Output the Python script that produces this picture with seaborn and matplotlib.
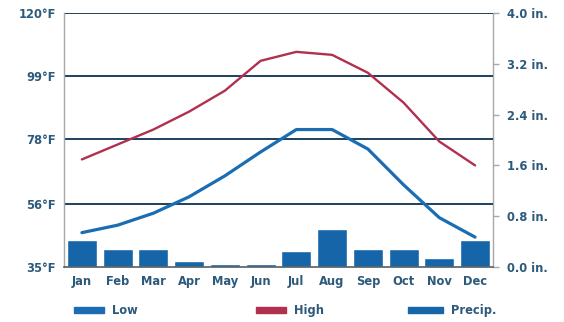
import matplotlib
matplotlib.use("Agg")
import matplotlib.pyplot as plt
from matplotlib.patches import Patch
import seaborn as sns
import pandas as pd

months = ["Jan", "Feb", "Mar", "Apr", "May", "Jun",
          "Jul", "Aug", "Sep", "Oct", "Nov", "Dec"]
high_f = [71, 76, 81, 87, 94, 104, 107, 106, 100, 90, 77, 69]
low_f = [46.5, 49, 53, 58.5, 65.5, 73.5, 81, 81, 74.5, 62.5, 51.5, 45]
precip_in = [0.43, 0.29, 0.29, 0.10, 0.05, 0.05, 0.25, 0.60, 0.28, 0.28, 0.14, 0.43]

temp_ticks = [35, 56, 78, 99, 120]
rain_ticks = [0.0, 0.8, 1.6, 2.4, 3.2, 4.0]

sns.set_theme(style="white")
plt.rcParams["font.family"] = ["DejaVu Sans"]

TEXT = "#2d5a7b"
GRID = "#1d3f5e"
LOW_C = "#1a6db3"
HIGH_C = "#b0304e"
BAR_C = "#1565a8"
FS = 8.3

df = pd.DataFrame({"month": months, "high": high_f, "low": low_f, "precip": precip_in})
df["pos"] = range(len(months))

fig = plt.figure(figsize=(5.64, 3.22), dpi=100)
ax = fig.add_axes([0.1135, 0.1708, 0.7605, 0.7888])
ax2 = ax.twinx()

# precipitation bars on the right-hand axis
sns.barplot(data=df, x="month", y="precip", color=BAR_C, saturation=1,
            width=0.84, ax=ax2, zorder=3)
ax2.set_ylim(0, 4.0)
ax2.set_yticks(rain_ticks)
ax2.set_yticklabels([f"{v:.1f} in." for v in rain_ticks])

# temperature lines on the left-hand axis
sns.lineplot(data=df, x="pos", y="high", color=HIGH_C, lw=1.7, ax=ax, zorder=4)
sns.lineplot(data=df, x="pos", y="low", color=LOW_C, lw=2.3, ax=ax, zorder=4)
ax.set_ylim(35, 120)
ax.set_yticks(temp_ticks)
ax.set_yticklabels([f"{v}°F" for v in temp_ticks])
ax.set_xlim(-0.5, 11.5)
ax2.set_xlim(-0.5, 11.5)
ax.set_xticks(range(12))
ax.set_xticklabels(months)

for v in temp_ticks[1:]:
    ax.axhline(v, color=GRID, lw=1.4, zorder=1)

ax.set_xlabel("")
ax.set_ylabel("")
ax2.set_xlabel("")
ax2.set_ylabel("")

for a in (ax, ax2):
    for s in a.spines.values():
        s.set_visible(False)
ax.spines["left"].set_visible(True)
ax.spines["left"].set_color("#a8a8a8")
ax.spines["left"].set_linewidth(1.0)
ax2.spines["right"].set_visible(True)
ax2.spines["right"].set_color("#a8a8a8")
ax2.spines["right"].set_linewidth(1.0)
ax.spines["bottom"].set_visible(True)
ax.spines["bottom"].set_color("#555f66")
ax.spines["bottom"].set_linewidth(1.2)

ax.tick_params(axis="y", length=0, pad=6, labelsize=FS, labelcolor=TEXT)
ax.tick_params(axis="x", length=0, pad=6, labelsize=FS, labelcolor=TEXT)
ax2.tick_params(axis="y", right=True, length=4, width=1, color="#a8a8a8",
                pad=6, labelsize=FS, labelcolor=TEXT)
for lab in ax.get_yticklabels() + ax2.get_yticklabels() + ax.get_xticklabels():
    lab.set_fontweight("bold")

ax2.set_zorder(ax.get_zorder() - 1)
ax.patch.set_visible(False)

legend_items = [("Low", LOW_C, 0.113, 2.6), ("High", HIGH_C, 0.436, 2.6),
                ("Precip.", BAR_C, 0.705, 3.0)]
for text, col, xpos, hl in legend_items:
    leg = fig.legend(handles=[Patch(facecolor=col, edgecolor=col)], labels=[text],
                     loc="center left", bbox_to_anchor=(xpos, 0.035), frameon=False,
                     handlelength=hl, handleheight=0.5, handletextpad=0.7,
                     prop={"size": FS, "weight": "bold"})
    for t in leg.get_texts():
        t.set_color(TEXT)

fig.savefig("out.png", dpi=100)
